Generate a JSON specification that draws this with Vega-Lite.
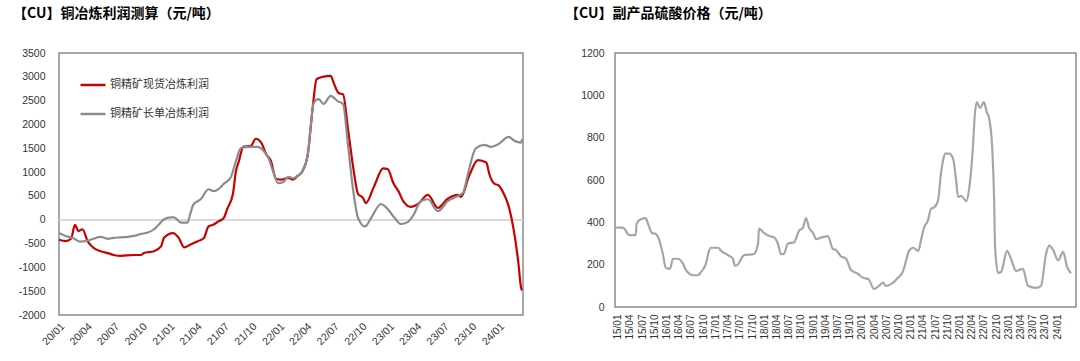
{
  "$schema": "https://vega.github.io/schema/vega-lite/v6.json",
  "background": "white",
  "padding": {"left": 12, "top": 6, "right": 0, "bottom": 0},
  "config": {
    "view": {"stroke": "#8c8c8c", "strokeWidth": 1.5},
    "axis": {"ticks": false, "domain": false, "grid": false, "title": null, "labelFont": "Liberation Sans", "labelFontSize": 10.5, "labelColor": "#333333", "labelOverlap": false}
  },
  "bounds": "flush",
  "spacing": 92,
  "datasets": {
    "profit": [
      {"date": "2020-01-01", "series": "铜精矿现货冶炼利润", "value": -420},
      {"date": "2020-01-23", "series": "铜精矿现货冶炼利润", "value": -450},
      {"date": "2020-02-10", "series": "铜精矿现货冶炼利润", "value": -400},
      {"date": "2020-02-23", "series": "铜精矿现货冶炼利润", "value": -110},
      {"date": "2020-03-06", "series": "铜精矿现货冶炼利润", "value": -240},
      {"date": "2020-03-19", "series": "铜精矿现货冶炼利润", "value": -200},
      {"date": "2020-04-05", "series": "铜精矿现货冶炼利润", "value": -450},
      {"date": "2020-04-25", "series": "铜精矿现货冶炼利润", "value": -590},
      {"date": "2020-05-18", "series": "铜精矿现货冶炼利润", "value": -660},
      {"date": "2020-06-11", "series": "铜精矿现货冶炼利润", "value": -700},
      {"date": "2020-07-01", "series": "铜精矿现货冶炼利润", "value": -740},
      {"date": "2020-07-24", "series": "铜精矿现货冶炼利润", "value": -760},
      {"date": "2020-09-06", "series": "铜精矿现货冶炼利润", "value": -740},
      {"date": "2020-09-29", "series": "铜精矿现货冶炼利润", "value": -740},
      {"date": "2020-10-09", "series": "铜精矿现货冶炼利润", "value": -700},
      {"date": "2020-11-12", "series": "铜精矿现货冶炼利润", "value": -660},
      {"date": "2020-12-05", "series": "铜精矿现货冶炼利润", "value": -560},
      {"date": "2020-12-15", "series": "铜精矿现货冶炼利润", "value": -380},
      {"date": "2021-01-14", "series": "铜精矿现货冶炼利润", "value": -280},
      {"date": "2021-02-01", "series": "铜精矿现货冶炼利润", "value": -370},
      {"date": "2021-02-20", "series": "铜精矿现货冶炼利润", "value": -580},
      {"date": "2021-03-13", "series": "铜精矿现货冶炼利润", "value": -520},
      {"date": "2021-04-06", "series": "铜精矿现货冶炼利润", "value": -450},
      {"date": "2021-04-26", "series": "铜精矿现货冶炼利润", "value": -390},
      {"date": "2021-05-12", "series": "铜精矿现货冶炼利润", "value": -140},
      {"date": "2021-05-29", "series": "铜精矿现货冶炼利润", "value": -100},
      {"date": "2021-06-15", "series": "铜精矿现货冶炼利润", "value": -30},
      {"date": "2021-07-01", "series": "铜精矿现货冶炼利润", "value": 30},
      {"date": "2021-07-14", "series": "铜精矿现货冶炼利润", "value": 240},
      {"date": "2021-08-01", "series": "铜精矿现货冶炼利润", "value": 540},
      {"date": "2021-08-11", "series": "铜精矿现货冶炼利润", "value": 1020},
      {"date": "2021-08-21", "series": "铜精矿现货冶炼利润", "value": 1230},
      {"date": "2021-09-04", "series": "铜精矿现货冶炼利润", "value": 1530},
      {"date": "2021-09-30", "series": "铜精矿现货冶炼利润", "value": 1550},
      {"date": "2021-10-16", "series": "铜精矿现货冶炼利润", "value": 1700},
      {"date": "2021-11-03", "series": "铜精矿现货冶炼利润", "value": 1620},
      {"date": "2021-11-19", "series": "铜精矿现货冶炼利润", "value": 1380},
      {"date": "2021-12-05", "series": "铜精矿现货冶炼利润", "value": 1240},
      {"date": "2021-12-22", "series": "铜精矿现货冶炼利润", "value": 860},
      {"date": "2022-01-08", "series": "铜精矿现货冶炼利润", "value": 840},
      {"date": "2022-02-01", "series": "铜精矿现货冶炼利润", "value": 880},
      {"date": "2022-02-17", "series": "铜精矿现货冶炼利润", "value": 840},
      {"date": "2022-03-04", "series": "铜精矿现货冶炼利润", "value": 920},
      {"date": "2022-03-20", "series": "铜精矿现货冶炼利润", "value": 1020},
      {"date": "2022-04-07", "series": "铜精矿现货冶炼利润", "value": 1380},
      {"date": "2022-04-23", "series": "铜精矿现货冶炼利润", "value": 2350},
      {"date": "2022-05-06", "series": "铜精矿现货冶炼利润", "value": 2950},
      {"date": "2022-05-26", "series": "铜精矿现货冶炼利润", "value": 3000},
      {"date": "2022-06-22", "series": "铜精矿现货冶炼利润", "value": 3020},
      {"date": "2022-07-02", "series": "铜精矿现货冶炼利润", "value": 2870},
      {"date": "2022-07-18", "series": "铜精矿现货冶炼利润", "value": 2660},
      {"date": "2022-08-02", "series": "铜精矿现货冶炼利润", "value": 2630},
      {"date": "2022-08-18", "series": "铜精矿现货冶炼利润", "value": 1930},
      {"date": "2022-09-05", "series": "铜精矿现货冶炼利润", "value": 1085},
      {"date": "2022-09-21", "series": "铜精矿现货冶炼利润", "value": 540},
      {"date": "2022-10-07", "series": "铜精矿现货冶炼利润", "value": 460},
      {"date": "2022-10-17", "series": "铜精矿现货冶炼利润", "value": 350},
      {"date": "2022-11-13", "series": "铜精矿现货冶炼利润", "value": 700},
      {"date": "2022-12-13", "series": "铜精矿现货冶炼利润", "value": 1080},
      {"date": "2022-12-29", "series": "铜精矿现货冶炼利润", "value": 1060},
      {"date": "2023-01-16", "series": "铜精矿现货冶炼利润", "value": 770},
      {"date": "2023-02-02", "series": "铜精矿现货冶炼利润", "value": 600},
      {"date": "2023-02-18", "series": "铜精矿现货冶炼利润", "value": 390},
      {"date": "2023-03-15", "series": "铜精矿现货冶炼利润", "value": 270},
      {"date": "2023-04-08", "series": "铜精矿现货冶炼利润", "value": 330},
      {"date": "2023-05-11", "series": "铜精矿现货冶炼利润", "value": 520},
      {"date": "2023-06-13", "series": "铜精矿现货冶炼利润", "value": 250},
      {"date": "2023-07-16", "series": "铜精矿现货冶炼利润", "value": 440},
      {"date": "2023-08-19", "series": "铜精矿现货冶炼利润", "value": 520},
      {"date": "2023-08-29", "series": "铜精矿现货冶炼利润", "value": 480},
      {"date": "2023-09-25", "series": "铜精矿现货冶炼利润", "value": 920},
      {"date": "2023-10-24", "series": "铜精矿现货冶炼利润", "value": 1250},
      {"date": "2023-11-21", "series": "铜精矿现货冶炼利润", "value": 1200},
      {"date": "2023-12-01", "series": "铜精矿现货冶炼利润", "value": 960},
      {"date": "2023-12-17", "series": "铜精矿现货冶炼利润", "value": 760},
      {"date": "2024-01-01", "series": "铜精矿现货冶炼利润", "value": 720},
      {"date": "2024-01-17", "series": "铜精矿现货冶炼利润", "value": 560},
      {"date": "2024-02-03", "series": "铜精矿现货冶炼利润", "value": 290},
      {"date": "2024-02-19", "series": "铜精矿现货冶炼利润", "value": -170},
      {"date": "2024-03-06", "series": "铜精矿现货冶炼利润", "value": -870},
      {"date": "2024-03-16", "series": "铜精矿现货冶炼利润", "value": -1440},
      {"date": "2024-03-19", "series": "铜精矿现货冶炼利润", "value": -1480},
      {"date": "2020-01-01", "series": "铜精矿长单冶炼利润", "value": -280},
      {"date": "2020-01-23", "series": "铜精矿长单冶炼利润", "value": -340},
      {"date": "2020-02-15", "series": "铜精矿长单冶炼利润", "value": -380},
      {"date": "2020-03-12", "series": "铜精矿长单冶炼利润", "value": -460},
      {"date": "2020-04-05", "series": "铜精矿长单冶炼利润", "value": -440},
      {"date": "2020-04-25", "series": "铜精矿长单冶炼利润", "value": -400},
      {"date": "2020-05-18", "series": "铜精矿长单冶炼利润", "value": -360},
      {"date": "2020-06-11", "series": "铜精矿长单冶炼利润", "value": -400},
      {"date": "2020-07-01", "series": "铜精矿长单冶炼利润", "value": -380},
      {"date": "2020-07-24", "series": "铜精矿长单冶炼利润", "value": -370},
      {"date": "2020-08-16", "series": "铜精矿长单冶炼利润", "value": -360},
      {"date": "2020-09-06", "series": "铜精矿长单冶炼利润", "value": -340},
      {"date": "2020-09-29", "series": "铜精矿长单冶炼利润", "value": -300},
      {"date": "2020-10-22", "series": "铜精矿长单冶炼利润", "value": -270},
      {"date": "2020-11-12", "series": "铜精矿长单冶炼利润", "value": -200},
      {"date": "2020-11-28", "series": "铜精矿长单冶炼利润", "value": -100},
      {"date": "2020-12-15", "series": "铜精矿长单冶炼利润", "value": 10},
      {"date": "2021-01-07", "series": "铜精矿长单冶炼利润", "value": 50},
      {"date": "2021-01-17", "series": "铜精矿长单冶炼利润", "value": 50},
      {"date": "2021-02-10", "series": "铜精矿长单冶炼利润", "value": -60},
      {"date": "2021-03-03", "series": "铜精矿长单冶炼利润", "value": -60},
      {"date": "2021-03-13", "series": "铜精矿长单冶炼利润", "value": 140},
      {"date": "2021-03-23", "series": "铜精矿长单冶炼利润", "value": 320},
      {"date": "2021-04-16", "series": "铜精矿长单冶炼利润", "value": 430},
      {"date": "2021-05-12", "series": "铜精矿长单冶炼利润", "value": 640},
      {"date": "2021-05-29", "series": "铜精矿长单冶炼利润", "value": 600},
      {"date": "2021-06-15", "series": "铜精矿长单冶炼利润", "value": 650},
      {"date": "2021-07-01", "series": "铜精矿长单冶炼利润", "value": 750},
      {"date": "2021-07-24", "series": "铜精矿长单冶炼利润", "value": 880},
      {"date": "2021-08-11", "series": "铜精矿长单冶炼利润", "value": 1230},
      {"date": "2021-08-27", "series": "铜精矿长单冶炼利润", "value": 1500},
      {"date": "2021-09-23", "series": "铜精矿长单冶炼利润", "value": 1530},
      {"date": "2021-10-22", "series": "铜精矿长单冶炼利润", "value": 1530},
      {"date": "2021-11-09", "series": "铜精矿长单冶炼利润", "value": 1460},
      {"date": "2021-11-29", "series": "铜精矿长单冶炼利润", "value": 1270},
      {"date": "2021-12-12", "series": "铜精矿长单冶炼利润", "value": 1020},
      {"date": "2021-12-29", "series": "铜精矿长单冶炼利润", "value": 770},
      {"date": "2022-01-15", "series": "铜精矿长单冶炼利润", "value": 790},
      {"date": "2022-02-01", "series": "铜精矿长单冶炼利润", "value": 900},
      {"date": "2022-02-17", "series": "铜精矿长单冶炼利润", "value": 870},
      {"date": "2022-03-04", "series": "铜精矿长单冶炼利润", "value": 920},
      {"date": "2022-03-20", "series": "铜精矿长单冶炼利润", "value": 1020},
      {"date": "2022-04-07", "series": "铜精矿长单冶炼利润", "value": 1380},
      {"date": "2022-04-16", "series": "铜精矿长单冶炼利润", "value": 1930},
      {"date": "2022-04-26", "series": "铜精矿长单冶炼利润", "value": 2450},
      {"date": "2022-05-13", "series": "铜精矿长单冶炼利润", "value": 2530},
      {"date": "2022-05-29", "series": "铜精矿长单冶炼利润", "value": 2430},
      {"date": "2022-06-22", "series": "铜精矿长单冶炼利润", "value": 2600},
      {"date": "2022-07-15", "series": "铜精矿长单冶炼利润", "value": 2490},
      {"date": "2022-08-02", "series": "铜精矿长单冶炼利润", "value": 2430},
      {"date": "2022-08-18", "series": "铜精矿长单冶炼利润", "value": 1590},
      {"date": "2022-09-05", "series": "铜精矿长单冶炼利润", "value": 600},
      {"date": "2022-09-21", "series": "铜精矿长单冶炼利润", "value": 35},
      {"date": "2022-10-14", "series": "铜精矿长单冶炼利润", "value": -140},
      {"date": "2022-11-03", "series": "铜精矿长单冶炼利润", "value": 35},
      {"date": "2022-12-06", "series": "铜精矿长单冶炼利润", "value": 330},
      {"date": "2022-12-23", "series": "铜精矿长单冶炼利润", "value": 260},
      {"date": "2023-01-16", "series": "铜精矿长单冶炼利润", "value": 75},
      {"date": "2023-02-10", "series": "铜精矿长单冶炼利润", "value": -90},
      {"date": "2023-03-05", "series": "铜精矿长单冶炼利润", "value": -50},
      {"date": "2023-03-25", "series": "铜精矿长单冶炼利润", "value": 110},
      {"date": "2023-04-17", "series": "铜精矿长单冶炼利润", "value": 390},
      {"date": "2023-05-11", "series": "铜精矿长单冶炼利润", "value": 430},
      {"date": "2023-06-13", "series": "铜精矿长单冶炼利润", "value": 180},
      {"date": "2023-07-16", "series": "铜精矿长单冶炼利润", "value": 390},
      {"date": "2023-08-19", "series": "铜精矿长单冶炼利润", "value": 500},
      {"date": "2023-09-05", "series": "铜精矿长单冶炼利润", "value": 570},
      {"date": "2023-09-21", "series": "铜精矿长单冶炼利润", "value": 960},
      {"date": "2023-10-17", "series": "铜精矿长单冶炼利润", "value": 1500},
      {"date": "2023-11-14", "series": "铜精矿长单冶炼利润", "value": 1570},
      {"date": "2023-12-07", "series": "铜精矿长单冶炼利润", "value": 1530},
      {"date": "2024-01-01", "series": "铜精矿长单冶炼利润", "value": 1590},
      {"date": "2024-02-03", "series": "铜精矿长单冶炼利润", "value": 1740},
      {"date": "2024-02-22", "series": "铜精矿长单冶炼利润", "value": 1660},
      {"date": "2024-03-16", "series": "铜精矿长单冶炼利润", "value": 1620},
      {"date": "2024-03-19", "series": "铜精矿长单冶炼利润", "value": 1690}
    ],
    "acid": [
      {"date": "2014-12-19", "price": 375},
      {"date": "2015-02-09", "price": 375},
      {"date": "2015-03-02", "price": 360},
      {"date": "2015-03-24", "price": 340},
      {"date": "2015-05-15", "price": 340},
      {"date": "2015-05-22", "price": 395},
      {"date": "2015-06-22", "price": 415},
      {"date": "2015-07-29", "price": 420},
      {"date": "2015-08-14", "price": 395},
      {"date": "2015-09-13", "price": 350},
      {"date": "2015-10-12", "price": 345},
      {"date": "2015-11-05", "price": 320},
      {"date": "2015-12-04", "price": 250},
      {"date": "2015-12-26", "price": 185},
      {"date": "2016-01-26", "price": 180},
      {"date": "2016-02-18", "price": 228},
      {"date": "2016-03-25", "price": 228},
      {"date": "2016-05-02", "price": 205},
      {"date": "2016-05-24", "price": 175},
      {"date": "2016-07-15", "price": 150},
      {"date": "2016-08-22", "price": 150},
      {"date": "2016-09-14", "price": 165},
      {"date": "2016-10-21", "price": 205},
      {"date": "2016-11-13", "price": 265},
      {"date": "2016-11-28", "price": 280},
      {"date": "2017-01-20", "price": 280},
      {"date": "2017-02-12", "price": 265},
      {"date": "2017-04-04", "price": 245},
      {"date": "2017-05-11", "price": 228},
      {"date": "2017-05-25", "price": 195},
      {"date": "2017-06-17", "price": 200},
      {"date": "2017-07-09", "price": 225},
      {"date": "2017-08-02", "price": 245},
      {"date": "2017-10-15", "price": 250},
      {"date": "2017-11-15", "price": 300},
      {"date": "2017-11-22", "price": 370},
      {"date": "2017-12-29", "price": 350},
      {"date": "2018-02-06", "price": 335},
      {"date": "2018-03-13", "price": 330},
      {"date": "2018-04-12", "price": 300},
      {"date": "2018-05-05", "price": 250},
      {"date": "2018-05-27", "price": 250},
      {"date": "2018-06-26", "price": 300},
      {"date": "2018-08-10", "price": 305},
      {"date": "2018-09-17", "price": 360},
      {"date": "2018-10-17", "price": 375},
      {"date": "2018-11-09", "price": 420},
      {"date": "2018-12-01", "price": 375},
      {"date": "2019-01-01", "price": 350},
      {"date": "2019-01-23", "price": 320},
      {"date": "2019-03-14", "price": 330},
      {"date": "2019-04-21", "price": 335},
      {"date": "2019-05-28", "price": 275},
      {"date": "2019-06-20", "price": 270},
      {"date": "2019-07-27", "price": 240},
      {"date": "2019-09-04", "price": 228},
      {"date": "2019-10-11", "price": 175},
      {"date": "2019-12-02", "price": 157},
      {"date": "2020-01-09", "price": 138},
      {"date": "2020-02-16", "price": 133},
      {"date": "2020-04-01", "price": 85},
      {"date": "2020-05-07", "price": 100},
      {"date": "2020-06-07", "price": 115},
      {"date": "2020-06-28", "price": 100},
      {"date": "2020-08-05", "price": 108},
      {"date": "2020-09-27", "price": 138},
      {"date": "2020-11-04", "price": 170},
      {"date": "2020-11-26", "price": 218},
      {"date": "2020-12-18", "price": 265},
      {"date": "2021-01-18", "price": 280},
      {"date": "2021-02-25", "price": 265},
      {"date": "2021-03-17", "price": 313},
      {"date": "2021-04-09", "price": 375},
      {"date": "2021-05-08", "price": 408},
      {"date": "2021-06-01", "price": 465},
      {"date": "2021-06-23", "price": 470},
      {"date": "2021-07-22", "price": 500},
      {"date": "2021-08-14", "price": 630},
      {"date": "2021-08-29", "price": 690},
      {"date": "2021-09-14", "price": 725},
      {"date": "2021-10-13", "price": 725},
      {"date": "2021-11-13", "price": 700},
      {"date": "2021-12-05", "price": 600},
      {"date": "2021-12-20", "price": 520},
      {"date": "2022-01-12", "price": 525},
      {"date": "2022-02-19", "price": 500},
      {"date": "2022-03-11", "price": 550},
      {"date": "2022-04-10", "price": 755},
      {"date": "2022-04-25", "price": 915},
      {"date": "2022-05-10", "price": 968},
      {"date": "2022-06-02", "price": 940},
      {"date": "2022-07-01", "price": 968},
      {"date": "2022-07-23", "price": 920},
      {"date": "2022-08-08", "price": 895},
      {"date": "2022-09-01", "price": 755},
      {"date": "2022-09-15", "price": 520},
      {"date": "2022-09-23", "price": 280},
      {"date": "2022-10-15", "price": 161},
      {"date": "2022-11-07", "price": 165},
      {"date": "2022-12-21", "price": 265},
      {"date": "2023-01-20", "price": 228},
      {"date": "2023-02-27", "price": 170},
      {"date": "2023-03-20", "price": 175},
      {"date": "2023-04-19", "price": 180},
      {"date": "2023-05-26", "price": 100},
      {"date": "2023-07-25", "price": 90},
      {"date": "2023-09-01", "price": 100},
      {"date": "2023-10-09", "price": 250},
      {"date": "2023-11-01", "price": 290},
      {"date": "2023-12-01", "price": 270},
      {"date": "2024-01-07", "price": 220},
      {"date": "2024-02-14", "price": 260},
      {"date": "2024-03-14", "price": 190},
      {"date": "2024-04-13", "price": 160}
    ]
  },
  "hconcat": [
    {
      "width": 464,
      "height": 262,
      "title": {"text": "【CU】铜冶炼利润测算（元/吨）", "anchor": "start", "frame": "group", "dx": -46, "offset": 27, "font": "Noto Sans CJK SC", "fontSize": 14, "fontWeight": "bold", "color": "#000000"},
      "data": {"name": "profit"},
      "layer": [
        {
          "mark": {"type": "rule", "color": "#d9d9d9", "strokeWidth": 1},
          "encoding": {"y": {"datum": 0, "type": "quantitative",
                  "scale": {"domain": [-2000, 3500], "nice": false, "zero": false},
                  "axis": {"values": [-2000, -1500, -1000, -500, 0, 500, 1000, 1500, 2000, 2500, 3000, 3500], "labelExpr": "datum.value + ''", "labelPadding": 14, "labelOverlap": false, "labelFlush": false}}}
        },
        {
          "mark": {"type": "line", "strokeWidth": 2.2, "interpolate": "monotone"},
          "encoding": {
            "x": {"field": "date", "type": "temporal",
                  "scale": {"type": "utc", "domain": [{"year": 2020, "month": 1, "date": 1, "utc": true}, {"year": 2024, "month": 3, "date": 22, "utc": true}]},
                  "axis": {"format": "%y/%m", "tickCount": {"interval": "month", "step": 3}, "labelAngle": -45, "labelPadding": 6, "labelFlush": false, "labelOverlap": false}},
            "y": {"field": "value", "type": "quantitative",
                  "scale": {"domain": [-2000, 3500], "nice": false, "zero": false},
                  "axis": {"values": [-2000, -1500, -1000, -500, 0, 500, 1000, 1500, 2000, 2500, 3000, 3500], "labelExpr": "datum.value + ''", "labelPadding": 14, "labelOverlap": false, "labelFlush": false}},
            "color": {"field": "series", "type": "nominal",
                      "scale": {"domain": ["铜精矿现货冶炼利润", "铜精矿长单冶炼利润"], "range": ["#c80000", "#8c8c8c"]},
                      "legend": {"orient": "none", "legendX": 20, "legendY": 18, "title": null, "symbolType": "stroke", "symbolSize": 625, "symbolStrokeWidth": 2.5, "labelFont": "Noto Sans CJK SC", "labelFontSize": 11, "labelColor": "#333333", "labelOffset": 3, "rowPadding": 10}},
            "order": {"field": "series", "sort": "ascending"}
          }
        }
      ]
    },
    {
      "width": 461,
      "height": 254,
      "title": {"text": "【CU】副产品硫酸价格（元/吨）", "anchor": "start", "frame": "group", "dx": -50, "offset": 27, "font": "Noto Sans CJK SC", "fontSize": 14, "fontWeight": "bold", "color": "#000000"},
      "data": {"name": "acid"},
      "mark": {"type": "line", "strokeWidth": 2.2, "color": "#a6a6a6", "interpolate": "monotone"},
      "encoding": {
        "x": {"field": "date", "type": "temporal",
              "scale": {"type": "utc", "domain": [{"year": 2014, "month": 12, "date": 11, "utc": true}, {"year": 2024, "month": 5, "date": 20, "utc": true}]},
              "axis": {"format": "%y/%m", "labelAngle": -90, "labelPadding": 7, "labelFontSize": 10, "labelFlush": false, "labelOverlap": false,
                       "values": [
                         {"year": 2015, "month": 1, "date": 1, "utc": true}, {"year": 2015, "month": 4, "date": 1, "utc": true}, {"year": 2015, "month": 7, "date": 1, "utc": true}, {"year": 2015, "month": 10, "date": 1, "utc": true},
                         {"year": 2016, "month": 1, "date": 1, "utc": true}, {"year": 2016, "month": 4, "date": 1, "utc": true}, {"year": 2016, "month": 7, "date": 1, "utc": true}, {"year": 2016, "month": 10, "date": 1, "utc": true},
                         {"year": 2017, "month": 1, "date": 1, "utc": true}, {"year": 2017, "month": 4, "date": 1, "utc": true}, {"year": 2017, "month": 7, "date": 1, "utc": true}, {"year": 2017, "month": 10, "date": 1, "utc": true},
                         {"year": 2018, "month": 1, "date": 1, "utc": true}, {"year": 2018, "month": 4, "date": 1, "utc": true}, {"year": 2018, "month": 7, "date": 1, "utc": true}, {"year": 2018, "month": 10, "date": 1, "utc": true},
                         {"year": 2019, "month": 1, "date": 1, "utc": true}, {"year": 2019, "month": 4, "date": 1, "utc": true}, {"year": 2019, "month": 7, "date": 1, "utc": true}, {"year": 2019, "month": 10, "date": 1, "utc": true},
                         {"year": 2020, "month": 1, "date": 1, "utc": true}, {"year": 2020, "month": 4, "date": 1, "utc": true}, {"year": 2020, "month": 7, "date": 1, "utc": true}, {"year": 2020, "month": 10, "date": 1, "utc": true},
                         {"year": 2021, "month": 1, "date": 1, "utc": true}, {"year": 2021, "month": 4, "date": 1, "utc": true}, {"year": 2021, "month": 7, "date": 1, "utc": true}, {"year": 2021, "month": 10, "date": 1, "utc": true},
                         {"year": 2022, "month": 1, "date": 1, "utc": true}, {"year": 2022, "month": 4, "date": 1, "utc": true}, {"year": 2022, "month": 7, "date": 1, "utc": true}, {"year": 2022, "month": 10, "date": 1, "utc": true},
                         {"year": 2023, "month": 1, "date": 1, "utc": true}, {"year": 2023, "month": 4, "date": 1, "utc": true}, {"year": 2023, "month": 7, "date": 1, "utc": true}, {"year": 2023, "month": 10, "date": 1, "utc": true},
                         {"year": 2024, "month": 1, "date": 1, "utc": true}
                       ]}},
        "y": {"field": "price", "type": "quantitative",
              "scale": {"domain": [0, 1200], "nice": false},
              "axis": {"values": [0, 200, 400, 600, 800, 1000, 1200], "labelExpr": "datum.value + ''", "labelPadding": 11, "labelOverlap": false}}
      }
    }
  ]
}
